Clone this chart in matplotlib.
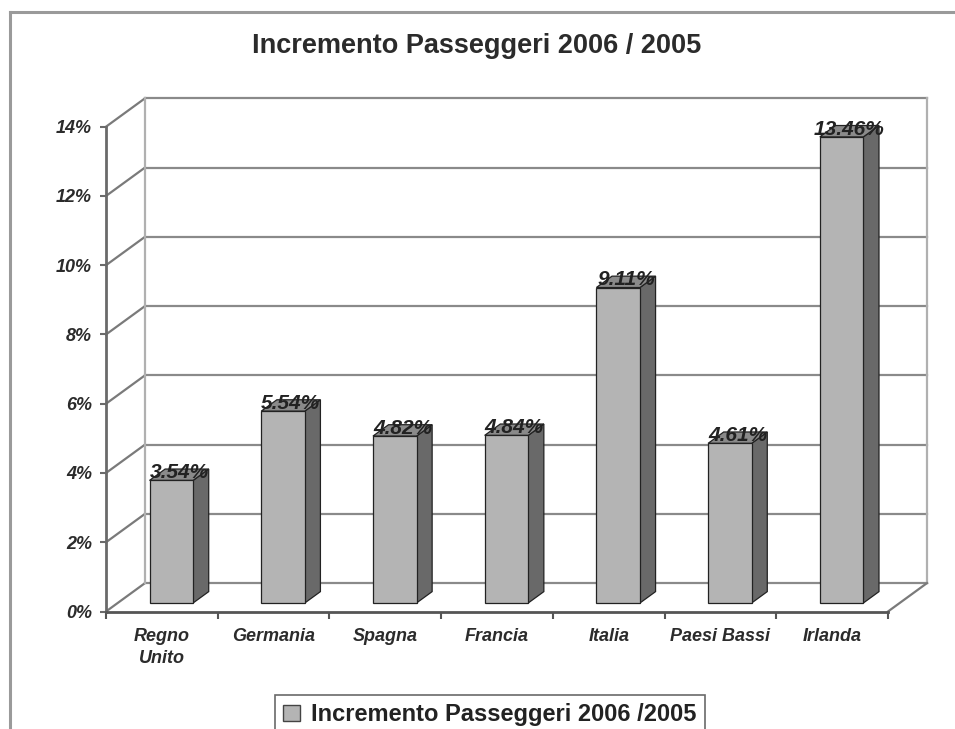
import matplotlib
matplotlib.use('Agg')
import matplotlib.pyplot as plt
from matplotlib.patches import Rectangle, Polygon, Patch
from matplotlib.lines import Line2D

# data
categories = ['Regno Unito', 'Germania', 'Spagna', 'Francia', 'Italia', 'Paesi Bassi', 'Irlanda']
tick_labels = ['Regno\nUnito', 'Germania', 'Spagna', 'Francia', 'Italia', 'Paesi Bassi', 'Irlanda']
values = [3.54, 5.54, 4.82, 4.84, 9.11, 4.61, 13.46]
y_ticks = [0, 2, 4, 6, 8, 10, 12, 14]
series_name = 'Incremento Passeggeri 2006 /2005'
title = 'Incremento Passeggeri 2006 / 2005'

plt.rcParams['font.family'] = ['Liberation Sans', 'DejaVu Sans']

W, H = 955, 729
fig = plt.figure(figsize=(W / 100, H / 100), dpi=100)
fig.set_facecolor('white')

# axes = front plane of the 3d box (pixel coords measured on reference)
left_px, right_px, top_px, bot_px = 106, 888, 126.7, 611.5
ax = fig.add_axes([left_px / W, 1 - bot_px / H, (right_px - left_px) / W, (bot_px - top_px) / H])
n = len(categories)
ax.set_xlim(-0.5, n - 0.5)
ax.set_ylim(0, 14)
ax.set_facecolor('none')

# depth offset of the back wall in data units
DX = 39 / ((right_px - left_px) / n)
DY = 28.4 / ((bot_px - top_px) / 14)

def proj(x, y, t):
    return (x + t * DX, y + t * DY)

grid_c = '#8a8a8a'
wall_c = '#b0b0b0'
xl, xr = -0.5, n - 0.5
for v in y_ticks:
    ax.plot([xl + DX, xr + DX], [v + DY, v + DY], color=grid_c, lw=1.6, zorder=1, clip_on=False)
    ax.plot([xl, xl + DX], [v, v + DY], color='#7a7a7a', lw=1.6, zorder=1, clip_on=False)
ax.plot([xl + DX, xl + DX], [DY, 14 + DY], color=wall_c, lw=1.6, zorder=1, clip_on=False)
ax.plot([xr + DX, xr + DX], [DY, 14 + DY], color=wall_c, lw=1.6, zorder=1, clip_on=False)
ax.plot([xr, xr + DX], [0, DY], color='#7a7a7a', lw=1.6, zorder=1, clip_on=False)

# pseudo 3d bars
front_c, side_c, top_c = '#b4b4b4', '#696969', '#8a8a8a'
bw = 0.39
t0, t1 = 0.3, 0.7
for i, v in enumerate(values):
    x0 = i - bw / 2 - 0.02
    x1 = x0 + bw
    fx0, fy0 = proj(x0, 0, t0)
    fx1, fy1 = proj(x1, v, t0)
    bx1, by1 = proj(x1, v, t1)
    bx0, _ = proj(x0, v, t1)
    _, by0 = proj(x1, 0, t1)
    ax.add_patch(Polygon([(fx1, fy0), (bx1, by0), (bx1, by1), (fx1, fy1)], closed=True,
                         facecolor=side_c, edgecolor='#222222', lw=0.9, zorder=3, clip_on=False))
    ax.add_patch(Polygon([(fx0, fy1), (fx1, fy1), (bx1, by1), (bx0, by1)], closed=True,
                         facecolor=top_c, edgecolor='#222222', lw=0.9, zorder=3, clip_on=False))
    ax.add_patch(Rectangle((fx0, fy0), fx1 - fx0, fy1 - fy0,
                           facecolor=front_c, edgecolor='#222222', lw=0.9, zorder=4, clip_on=False))
    lx, _ = proj(i - 0.02, v, 0.5)
    ax.text(lx, fy1 + 0.06, f'{v:.2f}%', ha='center', va='baseline', fontsize=15,
            fontweight='bold', fontstyle='italic', color='#222222', zorder=6, clip_on=False)

# axes, ticks, labels
for s in ['top', 'right']:
    ax.spines[s].set_visible(False)
ax.spines['left'].set_color('#6a6a6a')
ax.spines['left'].set_linewidth(2)
ax.spines['bottom'].set_color('#555555')
ax.spines['bottom'].set_linewidth(2)
ax.spines['left'].set_zorder(2)
ax.spines['bottom'].set_zorder(2)

ax.set_yticks(y_ticks)
ax.set_yticklabels([f'{v}%' for v in y_ticks])
ax.tick_params(axis='y', direction='out', length=4, width=1.5, color='#6a6a6a', pad=6,
               labelsize=13, labelcolor='#2b2b2b')
for lab in ax.get_yticklabels():
    lab.set_fontweight('bold')
    lab.set_fontstyle('italic')

ax.set_xticks(range(n))
ax.set_xticklabels(tick_labels, linespacing=1.35)
ax.set_xticks([k - 0.5 for k in range(n + 1)], minor=True)
ax.tick_params(axis='x', which='major', length=0, pad=12, labelsize=13, labelcolor='#2b2b2b')
ax.tick_params(axis='x', which='minor', direction='out', length=5, width=1.5, color='#555555')
for lab in ax.get_xticklabels():
    lab.set_fontweight('bold')
    lab.set_fontstyle('italic')
    lab.set_verticalalignment('top')

# title
fig.text(477 / W, 1 - 46 / H, title, ha='center', va='center', fontsize=19.5,
         fontweight='bold', color='#2b2b2b')

# outer frame of the chart area
fig.add_artist(Line2D([10 / W, 10 / W], [0, 1 - 12 / H], color='#9a9a9a', lw=2.2))
fig.add_artist(Line2D([10 / W, 1], [1 - 12 / H, 1 - 12 / H], color='#9a9a9a', lw=2.2))

# legend
handle = Patch(facecolor=front_c, edgecolor='#444444', lw=1)
leg = fig.legend([handle], [series_name], loc='upper center', bbox_to_anchor=(490 / W, 1 - 695 / H),
                 borderaxespad=0, frameon=True, fancybox=False, edgecolor='#444444',
                 handlelength=0.7, handleheight=0.7, handletextpad=0.5, borderpad=0.35,
                 prop={'weight': 'bold', 'size': 17})
leg.get_frame().set_linewidth(1.2)
for t in leg.get_texts():
    t.set_color('#222222')

fig.savefig('out.png', dpi=100, facecolor='white')
